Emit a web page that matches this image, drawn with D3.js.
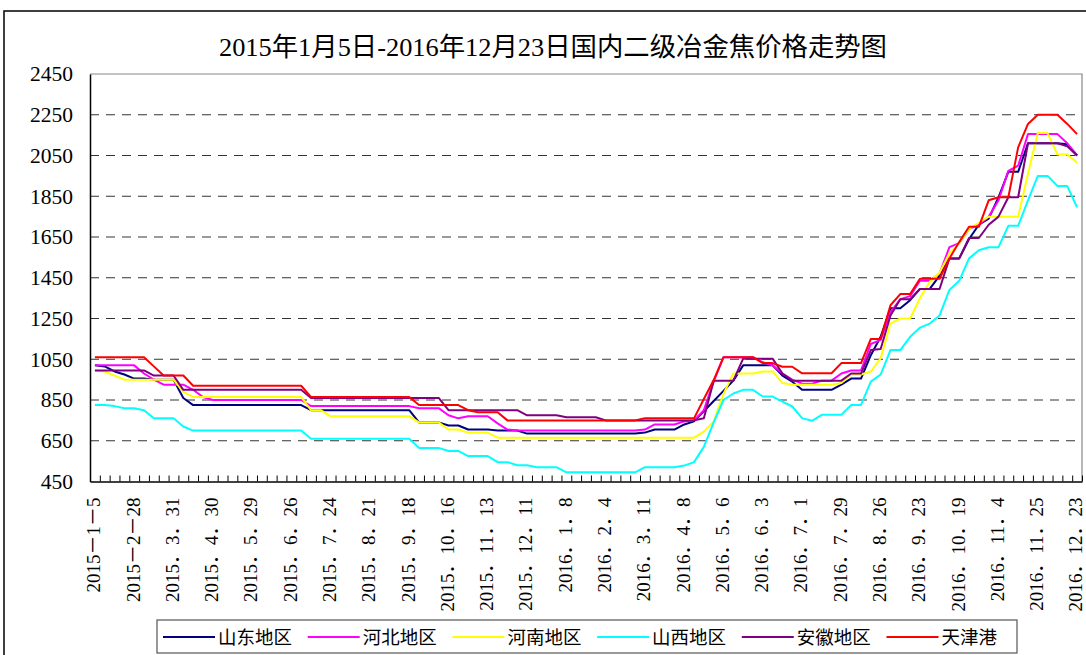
<!DOCTYPE html>
<html>
<head>
<meta charset="utf-8">
<script src="https://cdn.jsdelivr.net/npm/d3@7/dist/d3.min.js"></script>
<style>
  body { margin: 0; background: #fff; }
  svg text { font-family: "Liberation Serif", "Noto Sans CJK SC", serif; }
</style>
</head>
<body>
<div id="chart"></div>
<script>
// 101 weekly points, a label on every 4th one
var xLabels = ['2015－1－5', '2015－2－28', '2015．3．31', '2015．4．30', '2015．5．29', '2015．6．26',
  '2015．7．24', '2015．8．21', '2015．9．18', '2015．10．16', '2015．11．13', '2015．12．11',
  '2016．1．8', '2016．2．4', '2016．3．11', '2016．4．8', '2016．5．6', '2016．6．3', '2016．7．1',
  '2016．7．29', '2016．8．26', '2016．9．23', '2016．10．19', '2016．11．4', '2016．11．25', '2016．12．23']

var yTicks = [450, 650, 850, 1050, 1250, 1450, 1650, 1850, 2050, 2250, 2450]

var seriesNames = ['山东地区', '河北地区', '河南地区', '山西地区', '安徽地区', '天津港']

var shandong = [1020,1015,990,975,955,955,950,950,950,860,
  825,825,825,825,825,825,825,825,825,825,
  825,825,800,800,800,800,800,800,800,800,
  800,800,800,740,740,740,725,725,705,705,
  705,700,700,700,685,685,685,685,685,685,
  685,685,685,685,685,685,690,705,705,705,
  730,745,795,845,895,945,1020,1020,1020,1020,
  970,940,900,900,900,900,925,955,955,1070,
  1160,1300,1300,1340,1395,1395,1460,1545,1545,1640,
  1710,1740,1845,1970,1970,2110,2110,2110,2110,2105,
  2050]

var hebei = [1020,1020,1020,1020,1020,980,950,925,925,925,
  900,865,850,850,850,850,850,850,850,850,
  850,850,820,820,820,820,820,820,820,820,
  820,820,820,810,810,810,775,760,770,770,
  770,735,705,700,700,700,700,700,700,700,
  700,700,700,700,700,700,705,730,730,730,
  745,750,800,940,1060,1060,1060,1060,1035,1020,
  980,950,930,930,945,945,980,995,995,1125,
  1145,1280,1345,1360,1435,1435,1470,1600,1620,1690,
  1710,1750,1830,1975,2000,2155,2155,2155,2155,2110,
  2050]

var henan = [995,990,970,950,950,950,950,950,950,890,
  865,865,865,865,865,865,865,865,865,865,
  865,865,800,800,770,770,770,770,770,770,
  770,770,770,740,740,740,705,705,690,690,
  690,665,665,665,665,665,665,665,665,665,
  665,665,665,665,665,665,665,665,665,665,
  665,665,695,745,880,980,980,980,990,990,
  933,925,925,925,925,925,933,975,975,990,
  1055,1225,1250,1250,1350,1430,1475,1570,1620,1690,
  1720,1750,1750,1750,1750,1960,2160,2160,2055,2055,
  2015]

var shanxi = [825,825,820,810,810,800,760,760,760,720,
  700,700,700,700,700,700,700,700,700,700,
  700,700,660,660,660,660,660,660,660,660,
  660,660,660,615,615,615,600,600,575,575,
  575,545,545,530,530,520,520,520,495,495,
  495,495,495,495,495,495,520,520,520,520,
  528,545,620,740,850,882,900,900,867,867,
  842,818,761,748,777,777,777,826,826,940,
  975,1095,1095,1160,1205,1225,1265,1390,1435,1545,
  1585,1600,1600,1705,1705,1830,1950,1950,1900,1900,
  1795]

var anhui = [995,995,995,995,995,995,970,970,970,900,
  900,900,900,900,900,900,900,900,900,900,
  900,900,860,860,860,860,860,860,860,860,
  860,860,860,860,860,860,800,800,800,800,
  800,800,800,800,775,775,775,775,765,765,
  765,765,750,750,750,750,750,750,750,750,
  750,750,760,945,945,945,1053,1053,1053,1053,
  980,945,945,945,945,945,945,980,980,1095,
  1100,1265,1345,1345,1395,1395,1395,1545,1545,1645,
  1645,1710,1750,1845,1845,2110,2110,2110,2110,2095,
  2050]

var tianjin = [1060,1060,1060,1060,1060,1060,1015,970,970,970,
  920,920,920,920,920,920,920,920,920,920,
  920,920,865,865,865,865,865,865,865,865,
  865,865,865,825,825,825,825,825,800,790,
  790,790,750,750,750,750,750,750,750,750,
  750,750,750,750,750,750,760,760,760,760,
  760,760,855,948,1060,1060,1060,1060,1031,1031,
  1013,1013,981,981,981,981,1031,1031,1031,1150,
  1150,1315,1370,1370,1445,1445,1445,1545,1625,1700,
  1700,1830,1845,1845,2090,2205,2250,2250,2250,2205,
  2155]

var colors = ['#000080', '#FF00FF', '#FFFF00', '#00FFFF', '#800080', '#FF0000']
var seriesValues = [shandong, hebei, henan, shanxi, anhui, tianjin]

function draw_chart() {

  var width = 1086, height = 655
  var plot_left = 90, plot_right = 1082, plot_top = 74, plot_bottom = 481.5
  var n = shandong.length

  var svg = d3.select('#chart').append('svg')
    .attr('width', width)
    .attr('height', height)

  // outer frame
  svg.append('rect')
    .attr('x', 4).attr('y', 11)
    .attr('width', 1100).attr('height', 660)
    .attr('fill', 'none')
    .attr('stroke', '#000')
    .attr('stroke-width', 1.5)

  svg.append('text')
    .attr('x', 553).attr('y', 56)
    .attr('text-anchor', 'middle')
    .attr('textLength', 668)
    .attr('lengthAdjust', 'spacingAndGlyphs')
    .style('font-size', '26px')
    .text('2015年1月5日-2016年12月23日国内二级冶金焦价格走势图')

  var x = d3.scaleLinear().domain([-0.5, n - 0.5]).range([plot_left, plot_right])
  var y = d3.scaleLinear().domain([450, 2450]).range([plot_bottom, plot_top])

  // gridlines
  svg.append('g').selectAll('line')
    .data(yTicks.filter(function(d) { return d > 450 && d < 2450 }))
    .enter().append('line')
    .attr('x1', plot_left).attr('x2', plot_right)
    .attr('y1', function(d) { return y(d) }).attr('y2', function(d) { return y(d) })
    .attr('stroke', '#333')
    .attr('stroke-width', 1)
    .attr('stroke-dasharray', '9,7')

  // top and right border
  svg.append('path')
    .attr('d', 'M' + plot_left + ',' + y(2450) + 'H' + plot_right + 'V' + plot_bottom)
    .attr('fill', 'none')
    .attr('stroke', '#888')
    .attr('stroke-width', 1.2)

  // y axis
  var yAxis = svg.append('g')
    .attr('transform', 'translate(' + plot_left + ',0)')
    .call(d3.axisLeft(y).tickValues(yTicks).tickSize(0).tickPadding(17).tickFormat(d3.format('d')))
  yAxis.select('.domain').attr('stroke', '#000').attr('stroke-width', 1.5)
  yAxis.selectAll('text')
    .style('font-size', '21.5px')
    .style('font-family', '"Liberation Serif", serif')
    .attr('fill', '#000')

  // x axis with inward ticks at category boundaries
  var boundaries = d3.range(n + 1).map(function(k) { return k - 0.5 })
  var xAxis = svg.append('g')
    .attr('transform', 'translate(0,' + plot_bottom + ')')
    .call(d3.axisBottom(x).tickValues(boundaries).tickSizeInner(-6).tickSizeOuter(0).tickFormat(''))
  xAxis.select('.domain').attr('stroke', '#000').attr('stroke-width', 1.5)
  xAxis.selectAll('.tick line').attr('stroke', '#000')

  svg.append('g').selectAll('text')
    .data(xLabels)
    .enter().append('text')
    .attr('transform', function(d, i) { return 'translate(' + x(i * 4) + ',' + (plot_bottom + 16) + ') rotate(-90)' })
    .attr('text-anchor', 'end')
    .attr('dy', '0.28em')
    .style('font-size', '19px')
    .text(function(d) { return d })

  // lines
  var line = d3.line()
    .x(function(d, i) { return x(i) })
    .y(function(d) { return y(d) })

  seriesValues.forEach(function(values, s) {
    svg.append('path')
      .datum(values)
      .attr('d', line)
      .attr('fill', 'none')
      .attr('stroke', colors[s])
      .attr('stroke-width', 2)
      .attr('stroke-linejoin', 'round')
  })

  // legend
  svg.append('rect')
    .attr('x', 157).attr('y', 620)
    .attr('width', 860).attr('height', 33)
    .attr('fill', '#fff')
    .attr('stroke', '#555')
    .attr('stroke-width', 1.2)

  var legend = svg.append('g').selectAll('g')
    .data(seriesNames)
    .enter().append('g')
    .attr('transform', function(d, i) { return 'translate(' + (163 + i * 144.7) + ',637)' })

  legend.append('line')
    .attr('x1', 0).attr('x2', 52)
    .attr('stroke', function(d, i) { return colors[i] })
    .attr('stroke-width', 2)

  legend.append('text')
    .attr('x', 55)
    .attr('dy', '0.36em')
    .style('font-family', '"Noto Sans CJK SC", sans-serif')
    .style('font-size', '18.5px')
    .text(function(d) { return d })
}

draw_chart()
</script>
</body>
</html>
